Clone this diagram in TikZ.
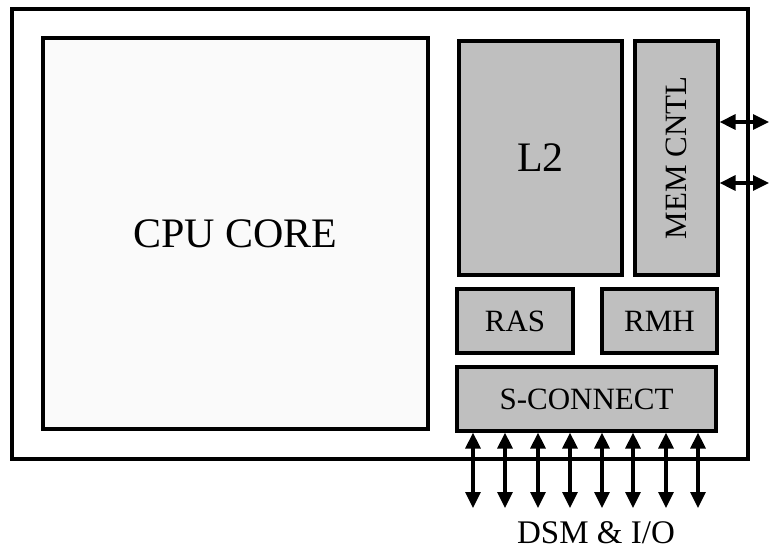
\documentclass[tikz,border=0pt]{standalone}
\usepackage{fontspec}
\setmainfont{Liberation Serif}
\usetikzlibrary{arrows.meta}

\tikzset{
  block/.style={draw,line width=3.2pt,fill=black!25,inner sep=0pt,
    font=\fontsize{31}{31}\selectfont},
  bus/.style={line width=3.2pt,<->}
}

\begin{document}
\begin{tikzpicture}[x=1pt,y=-1pt,>={Triangle[length=16pt,width=15pt]}]
\useasboundingbox (0,0) rectangle (771,550);
\node[draw,line width=3.2pt,minimum width=736pt,minimum height=450pt] (chip) at (380,234) {};
\node[block,fill=black!2,minimum width=385pt,minimum height=391pt,
  font=\fontsize{42}{42}\selectfont] (cpu) at (235.5,233.5) {CPU CORE};
\node[block,minimum width=163pt,minimum height=234pt,
  font=\fontsize{42}{42}\selectfont] (l2) at (540.5,158) {L2};
\node[block,minimum width=83pt,minimum height=234pt] (mem) at (676.5,158) {};
\node[rotate=90,font=\fontsize{31}{31}\selectfont] (memlbl) at (mem.center) {MEM CNTL};
\node[block,minimum width=116pt,minimum height=64pt] (ras) at (515,321) {RAS};
\node[block,minimum width=115pt,minimum height=64pt] (rmh) at (659.5,321) {RMH};
\node[block,minimum width=259pt,minimum height=64pt] (sconn) at (586.5,399) {S-CONNECT};
\node[font=\fontsize{33}{33}\selectfont] (dsm) at (596,533) {DSM \& I/O};

% memory ports
\coordinate (m1) at (769,122);
\coordinate (m2) at (769,183);
\draw[bus] (mem.east |- m1) -- (m1);
\draw[bus] (mem.east |- m2) -- (m2);

% dsm and i/o ports
\foreach \x [count=\i] in {473,505,538,570,602,633,666,698} {
  \coordinate (p\i) at (\x,508);
  \draw[bus] (sconn.south -| p\i) -- (p\i);
}
\end{tikzpicture}
\end{document}
